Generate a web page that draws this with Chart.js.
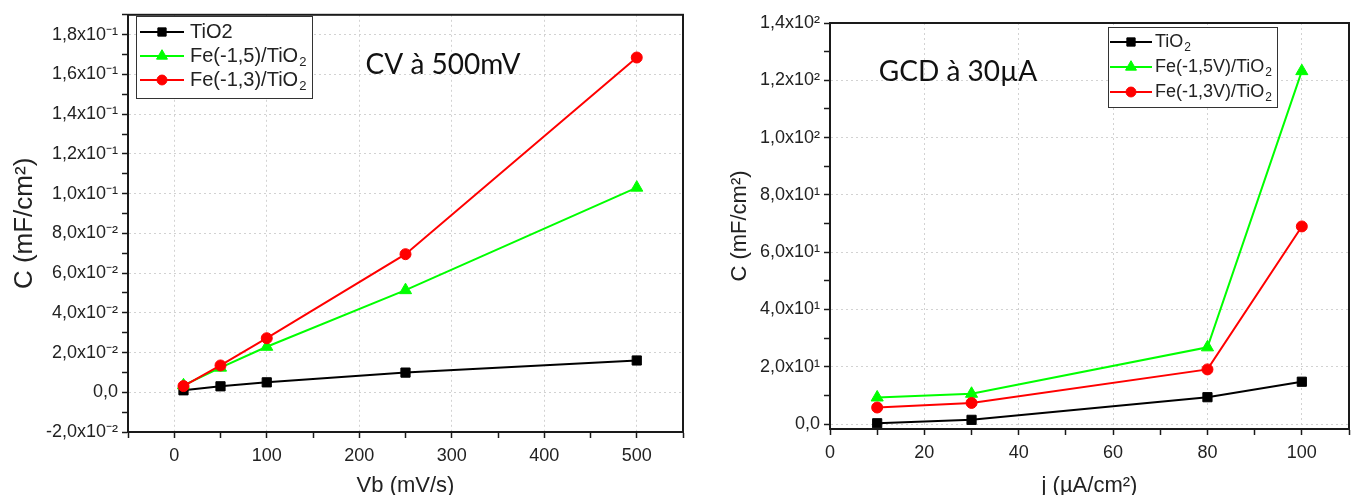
<!DOCTYPE html>
<html>
<head>
<meta charset="utf-8">
<title>Capacité spécifique</title>
<script src="https://cdn.jsdelivr.net/npm/chart.js@4.4.1/dist/chart.umd.min.js"></script>
<style>
  html, body { margin: 0; padding: 0; background: #fff; overflow: hidden; }
  #cv-box { position: absolute; left: 0; top: 0; width: 700px; height: 495px; }
  #gcd-box { position: absolute; left: 700px; top: 0; width: 657px; height: 495px; }
</style>
</head>
<body>
<div id="cv-box"><canvas id="cv-chart" width="700" height="495"></canvas></div>
<div id="gcd-box"><canvas id="gcd-chart" width="657" height="495"></canvas></div>
<script>
// CV: capacitance against scan rate (mV/s)
var vbRates = [10, 50, 100, 250, 500];
var cvTiO2 = [0.0010, 0.0030, 0.0050, 0.0099, 0.0160];
var cvFe15 = [0.0035, 0.0124, 0.0229, 0.0514, 0.1030];
var cvFe13 = [0.0031, 0.0135, 0.0272, 0.0695, 0.1685];
var cvLabels = ['TiO2', 'Fe(-1,5)/TiO₂', 'Fe(-1,3)/TiO₂'];

// GCD: capacitance against current density (µA/cm²)
var jDensity = [10, 30, 80, 100];
var gcdTiO2 = [0.3, 1.5, 9.4, 14.8];
var gcdFe15 = [9.3, 10.6, 26.8, 123.2];
var gcdFe13 = [5.8, 7.4, 19.1, 69.0];
var gcdLabels = ['TiO₂', 'Fe(-1,5V)/TiO₂', 'Fe(-1,3V)/TiO₂'];

var seriesColors = ['#000000', '#00ff00', '#ff0000'];
var seriesMarkers = ['rect', 'triangle', 'circle'];
var markerRadius = [6.5, 7, 5.5];

var AXIS_COLOR = '#1a1a1a';
var TEXT_COLOR = '#222222';
var GRID_COLOR = '#d2d2d2';
var FONT = '"Liberation Sans", Arial, sans-serif';

var SUP = {'0': '⁰', '1': '¹', '2': '²', '3': '³', '4': '⁴', '5': '⁵',
           '6': '⁶', '7': '⁷', '8': '⁸', '9': '⁹', '-': '⁻'};

// 1,8x10⁻¹ style labels
function sciLabel(value)
{
    let v = Math.round(value * 1e6) / 1e6;
    if (Math.abs(v) < 1e-9) {
        return '0,0';
    }
    let e = Math.floor(Math.log10(Math.abs(v)) + 1e-9);
    let m = v / Math.pow(10, e);
    let exp = String(e).split('').map(c => SUP[c]).join('');
    return m.toFixed(1).replace('.', ',') + 'x10' + exp;
}

function buildDatasets(xs, seriesList, labels)
{
    return seriesList.map((ys, i) => ({
        label: labels[i],
        data: xs.map((x, k) => ({x: x, y: ys[k]})),
        borderColor: seriesColors[i],
        backgroundColor: seriesColors[i],
        borderWidth: 2,
        pointStyle: seriesMarkers[i],
        pointRadius: markerRadius[i],
        pointBorderWidth: 1,
        order: seriesList.length - i,
        tension: 0
    }));
}

function makeAxis(cfg)
{
    return {
        type: 'linear',
        min: cfg.min,
        max: cfg.max,
        afterFit: function(scale) {
            if (cfg.vertical) {
                scale.width = cfg.fit;
            } else {
                scale.height = cfg.fit;
            }
        },
        ticks: {
            stepSize: cfg.step,
            includeBounds: false,
            autoSkip: false,
            maxRotation: 0,
            color: TEXT_COLOR,
            padding: cfg.vertical ? 4 : 7,
            font: {family: FONT, size: 18},
            callback: function(v) {
                if (!cfg.isMajor(v)) return '';
                return cfg.vertical ? sciLabel(v) : String(Math.round(v));
            }
        },
        grid: {
            color: ctx => (ctx.tick && cfg.isMajor(ctx.tick.value)) ? GRID_COLOR : 'rgba(0,0,0,0)',
            lineWidth: 1,
            tickLength: 6,
            tickColor: AXIS_COLOR,
            tickWidth: 1.5
        },
        border: {display: true, color: AXIS_COLOR, width: 2, dash: [2, 3]},
        title: {
            display: true,
            text: cfg.title,
            color: TEXT_COLOR,
            font: {family: FONT, size: cfg.titleSize, lineHeight: cfg.vertical ? 1.2 : 0.8},
            padding: cfg.titlePadding
        }
    };
}

// draws text where '₂' is set as a lowered, smaller 2
function drawSubText(ctx, text, x, y, size)
{
    let parts = text.split('₂');
    ctx.textBaseline = 'middle';
    ctx.textAlign = 'left';
    parts.forEach((p, i) => {
        ctx.font = size + 'px ' + FONT;
        ctx.fillText(p, x, y);
        x += ctx.measureText(p).width;
        if (i < parts.length - 1) {
            ctx.font = Math.round(size * 0.65) + 'px ' + FONT;
            ctx.fillText('2', x + 1, y + size * 0.32);
            x += ctx.measureText('2').width + 1;
        }
    });
}

var framePlugin = {
    id: 'frame',
    afterDraw(chart) {
        let a = chart.chartArea;
        let ctx = chart.ctx;
        ctx.save();
        ctx.strokeStyle = AXIS_COLOR;
        ctx.lineWidth = 2;
        ctx.strokeRect(a.left, a.top, a.right - a.left, a.bottom - a.top);
        ctx.restore();
    }
};

var boxLegendPlugin = {
    id: 'boxLegend',
    afterDraw(chart, args, opts) {
        let ctx = chart.ctx;
        ctx.save();
        ctx.fillStyle = '#ffffff';
        ctx.fillRect(opts.x, opts.y, opts.w, opts.h);
        ctx.strokeStyle = '#333333';
        ctx.lineWidth = 1;
        ctx.strokeRect(opts.x + 0.5, opts.y + 0.5, opts.w, opts.h);

        chart.data.datasets.forEach((ds, i) => {
            let cy = opts.y + opts.firstRow + i * opts.rowStep;
            ctx.strokeStyle = ds.borderColor;
            ctx.lineWidth = 2;
            ctx.beginPath();
            ctx.moveTo(opts.x + opts.lineFrom, cy);
            ctx.lineTo(opts.x + opts.lineTo, cy);
            ctx.stroke();
            ctx.fillStyle = ds.backgroundColor;
            ctx.lineWidth = 1;
            Chart.helpers.drawPoint(ctx, {
                pointStyle: ds.pointStyle,
                radius: ds.pointRadius * 0.9,
                rotation: 0,
                borderWidth: 1
            }, opts.x + (opts.lineFrom + opts.lineTo) / 2, cy);
            ctx.fillStyle = TEXT_COLOR;
            drawSubText(ctx, ds.label, opts.x + opts.textAt, cy, opts.fontSize);
        });
        ctx.restore();
    }
};

var notePlugin = {
    id: 'note',
    afterDraw(chart, args, opts) {
        let ctx = chart.ctx;
        ctx.save();
        ctx.fillStyle = '#111111';
        ctx.font = opts.size + 'px Lato, "Open Sans", sans-serif';
        ctx.textAlign = 'center';
        ctx.textBaseline = 'middle';
        ctx.fillText(opts.text, opts.x, opts.y);
        ctx.restore();
    }
};

var baseOptions = {
    responsive: false,
    animation: false,
    devicePixelRatio: 1
};

new Chart(document.getElementById('cv-chart'), {
    type: 'line',
    data: {datasets: buildDatasets(vbRates, [cvTiO2, cvFe15, cvFe13], cvLabels)},
    options: Object.assign({}, baseOptions, {
        layout: {padding: {top: 14, right: 17, left: 0, bottom: 0}},
        plugins: {
            legend: {display: false},
            tooltip: {enabled: false},
            boxLegend: {x: 136, y: 16, w: 176, h: 82, firstRow: 16, rowStep: 24,
                        lineFrom: 4, lineTo: 48, textAt: 54, fontSize: 20},
            note: {text: 'CV à 500mV', x: 443, y: 65, size: 28}
        },
        scales: {
            x: makeAxis({
                min: -50, max: 550, step: 50, fit: 63,
                isMajor: v => Math.round(v) % 100 === 0,
                title: 'Vb (mV/s)', titleSize: 22, titlePadding: {top: 0, bottom: 0}
            }),
            y: makeAxis({
                vertical: true, min: -0.02, max: 0.19, step: 0.01, fit: 128,
                isMajor: v => Math.round(v * 100) % 2 === 0,
                title: 'C (mF/cm²)', titleSize: 26, titlePadding: {top: 9, bottom: 0}
            })
        }
    }),
    plugins: [framePlugin, boxLegendPlugin, notePlugin]
});

new Chart(document.getElementById('gcd-chart'), {
    type: 'line',
    data: {datasets: buildDatasets(jDensity, [gcdTiO2, gcdFe15, gcdFe13], gcdLabels)},
    options: Object.assign({}, baseOptions, {
        layout: {padding: {top: 23, right: 2, left: 0, bottom: 0}},
        plugins: {
            legend: {display: false},
            tooltip: {enabled: false},
            boxLegend: {x: 408, y: 27, w: 169, h: 80, firstRow: 15, rowStep: 25,
                        lineFrom: 2, lineTo: 44, textAt: 47, fontSize: 18},
            note: {text: 'GCD à 30µA', x: 258, y: 72, size: 28}
        },
        scales: {
            x: makeAxis({
                min: 0, max: 110, step: 10, fit: 66,
                isMajor: v => Math.round(v) % 20 === 0,
                title: 'j (µA/cm²)', titleSize: 22, titlePadding: {top: 0, bottom: 0}
            }),
            y: makeAxis({
                vertical: true, min: -1.7, max: 140, step: 10, fit: 130,
                isMajor: v => Math.round(v) % 20 === 0,
                title: 'C (mF/cm²)', titleSize: 22, titlePadding: {top: 27, bottom: 0}
            })
        }
    }),
    plugins: [framePlugin, boxLegendPlugin, notePlugin]
});
</script>
</body>
</html>
